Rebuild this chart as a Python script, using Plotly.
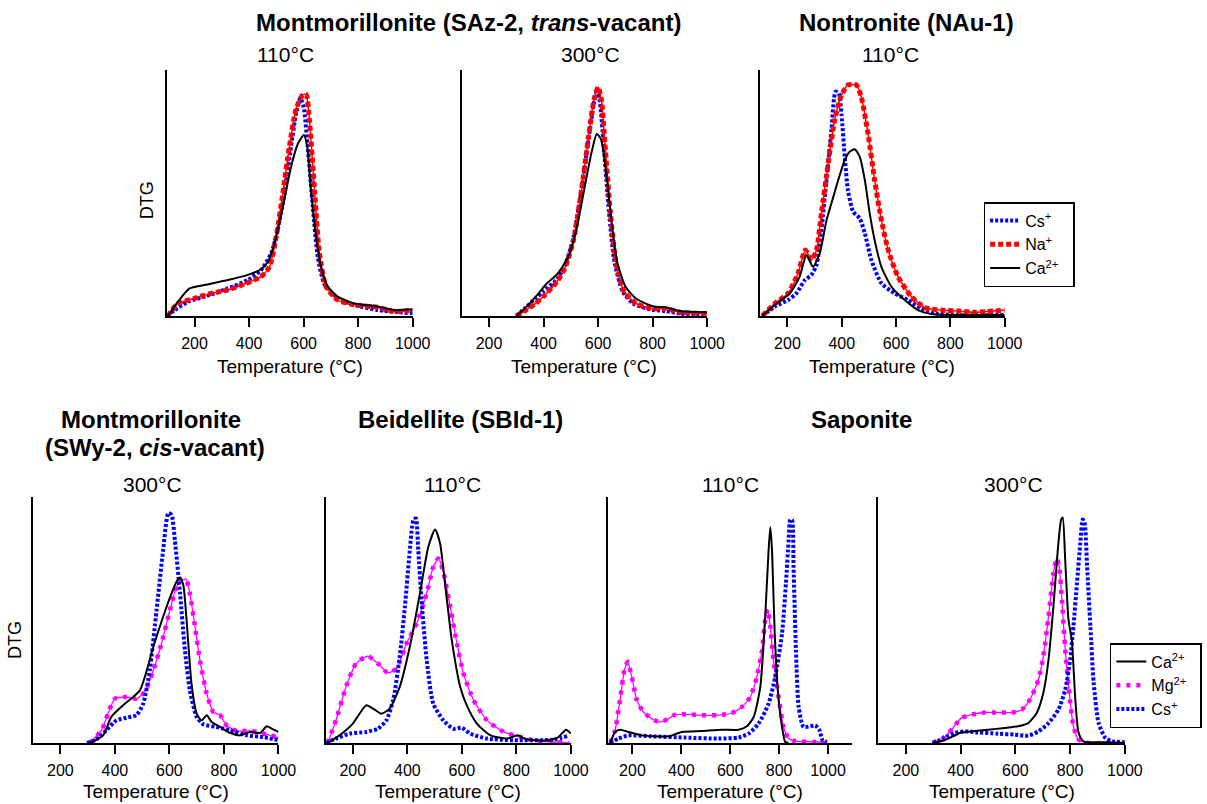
import plotly.graph_objects as go

# ---------------- data: temperature (°C) and normalised DTG ----------------
# Montmorillonite SAz-2, 110 °C
saz110_cs_t = [100, 127, 176, 237, 322, 395, 444, 481, 505, 530, 554, 572, 588, 600, 615, 634, 652, 676, 725, 786, 872, 1000]
saz110_cs_v = [0, 0.024, 0.058, 0.079, 0.112, 0.146, 0.187, 0.255, 0.35, 0.50, 0.69, 0.82, 0.885, 0.85, 0.69, 0.44, 0.24, 0.13, 0.072, 0.045, 0.024, 0.011]
saz110_na_t = [100, 139, 200, 261, 322, 383, 444, 475, 499, 524, 548, 572, 597, 609, 621, 640, 658, 682, 725, 786, 872, 933, 1000]
saz110_na_v = [0, 0.05, 0.072, 0.092, 0.106, 0.13, 0.16, 0.20, 0.32, 0.50, 0.69, 0.84, 0.90, 0.90, 0.80, 0.51, 0.255, 0.12, 0.065, 0.045, 0.035, 0.018, 0.024]
saz110_ca_t = [100, 108, 139, 182, 237, 322, 395, 444, 469, 493, 524, 554, 579, 601, 613, 627, 646, 664, 689, 725, 786, 860, 933, 1000]
saz110_ca_v = [0, 0.01, 0.058, 0.112, 0.126, 0.146, 0.167, 0.19, 0.22, 0.295, 0.444, 0.607, 0.70, 0.736, 0.69, 0.51, 0.32, 0.20, 0.12, 0.079, 0.051, 0.041, 0.024, 0.027]

# Montmorillonite SAz-2, 300 °C
saz300_cs_t = [300, 330, 370, 400, 450, 480, 510, 540, 565, 585, 595, 605, 620, 640, 660, 690, 730, 800, 850, 900, 1000]
saz300_cs_v = [0, 0.03, 0.07, 0.10, 0.15, 0.21, 0.32, 0.52, 0.72, 0.87, 0.91, 0.88, 0.70, 0.42, 0.22, 0.10, 0.05, 0.025, 0.02, 0.01, 0.005]
saz300_na_t = [300, 330, 370, 400, 450, 480, 510, 540, 565, 585, 600, 612, 625, 645, 665, 695, 740, 800, 850, 900, 1000]
saz300_na_v = [0, 0.02, 0.05, 0.08, 0.14, 0.20, 0.31, 0.52, 0.73, 0.88, 0.93, 0.88, 0.70, 0.42, 0.22, 0.10, 0.05, 0.03, 0.03, 0.015, 0.01]
saz300_ca_t = [300, 340, 380, 410, 450, 490, 520, 550, 575, 595, 610, 630, 650, 670, 700, 740, 800, 850, 900, 1000]
saz300_ca_v = [0, 0.04, 0.09, 0.13, 0.17, 0.24, 0.35, 0.52, 0.66, 0.74, 0.72, 0.58, 0.38, 0.22, 0.12, 0.07, 0.04, 0.035, 0.02, 0.015]

# Nontronite NAu-1, 110 °C
nau110_cs_t = [107, 153, 202, 233, 264, 288, 307, 325, 344, 362, 377, 389, 399, 411, 423, 442, 466, 485, 509, 546, 595, 644, 693, 742, 828, 1000]
nau110_cs_v = [0, 0.038, 0.065, 0.092, 0.146, 0.167, 0.207, 0.35, 0.553, 0.756, 0.912, 0.905, 0.82, 0.648, 0.51, 0.424, 0.397, 0.336, 0.228, 0.133, 0.092, 0.065, 0.031, 0.011, 0.004, 0.004]
nau110_na_t = [107, 153, 202, 239, 266, 288, 307, 325, 350, 374, 399, 423, 454, 472, 497, 521, 546, 571, 607, 656, 706, 767, 828, 890, 1000]
nau110_na_v = [0, 0.05, 0.092, 0.173, 0.268, 0.228, 0.268, 0.417, 0.62, 0.797, 0.898, 0.939, 0.939, 0.89, 0.74, 0.553, 0.39, 0.268, 0.16, 0.079, 0.034, 0.024, 0.02, 0.015, 0.024]
nau110_ca_t = [107, 153, 209, 245, 270, 294, 319, 344, 362, 387, 411, 429, 448, 466, 485, 503, 521, 546, 583, 632, 681, 730, 1000]
nau110_ca_v = [0, 0.045, 0.092, 0.16, 0.248, 0.2, 0.255, 0.39, 0.458, 0.553, 0.634, 0.668, 0.678, 0.648, 0.553, 0.417, 0.309, 0.2, 0.119, 0.065, 0.024, 0.008, 0.004]

# Montmorillonite SWy-2, 300 °C
swy300_mg_t = [308, 351, 375, 400, 443, 479, 510, 541, 571, 602, 626, 645, 661, 675, 694, 712, 737, 761, 786, 810, 847, 896, 945, 1000]
swy300_mg_v = [0, 0.052, 0.119, 0.18, 0.187, 0.18, 0.208, 0.296, 0.404, 0.54, 0.635, 0.662, 0.665, 0.608, 0.472, 0.336, 0.2, 0.126, 0.113, 0.072, 0.049, 0.049, 0.038, 0.022]
swy300_cs_t = [298, 332, 369, 406, 443, 479, 504, 528, 553, 577, 596, 608, 620, 639, 657, 675, 700, 724, 773, 822, 884, 945, 1000]
swy300_cs_v = [0, 0.014, 0.052, 0.092, 0.103, 0.113, 0.16, 0.296, 0.54, 0.784, 0.934, 0.927, 0.825, 0.608, 0.377, 0.214, 0.106, 0.076, 0.065, 0.052, 0.031, 0.024, 0.011]
swy300_ca_t = [308, 357, 387, 430, 467, 492, 510, 541, 577, 608, 626, 639, 651, 663, 681, 700, 718, 737, 755, 786, 822, 859, 896, 933, 957, 982, 1000]
swy300_ca_v = [0, 0.031, 0.106, 0.153, 0.187, 0.214, 0.269, 0.39, 0.513, 0.608, 0.655, 0.673, 0.642, 0.5, 0.242, 0.119, 0.092, 0.113, 0.085, 0.065, 0.041, 0.031, 0.045, 0.041, 0.068, 0.054, 0.045]

# Beidellite SBId-1, 110 °C
sbid110_mg_t = [108, 138, 175, 212, 255, 292, 329, 360, 397, 434, 471, 495, 514, 532, 557, 582, 606, 643, 692, 754, 815, 877, 938, 994]
sbid110_mg_v = [0, 0.092, 0.228, 0.323, 0.353, 0.323, 0.285, 0.303, 0.404, 0.486, 0.608, 0.716, 0.75, 0.696, 0.554, 0.404, 0.282, 0.174, 0.092, 0.045, 0.024, 0.008, 0.004, 0]
sbid110_cs_t = [102, 138, 188, 249, 292, 323, 348, 372, 391, 407, 422, 431, 440, 452, 471, 495, 532, 569, 600, 631, 692, 791, 938, 994]
sbid110_cs_v = [0, 0.018, 0.038, 0.045, 0.058, 0.092, 0.174, 0.35, 0.554, 0.757, 0.906, 0.913, 0.784, 0.58, 0.336, 0.16, 0.092, 0.058, 0.062, 0.038, 0.018, 0.011, 0.014, 0.031]
sbid110_ca_t = [108, 151, 200, 249, 274, 305, 335, 372, 409, 446, 477, 502, 520, 538, 563, 594, 618, 655, 705, 766, 803, 840, 914, 951, 982, 1000]
sbid110_ca_v = [0, 0.031, 0.079, 0.153, 0.14, 0.119, 0.14, 0.228, 0.391, 0.608, 0.798, 0.868, 0.811, 0.649, 0.418, 0.228, 0.153, 0.079, 0.031, 0.018, 0.031, 0.014, 0.011, 0.022, 0.054, 0.038]

# Saponite, 110 °C
sap110_mg_t = [109, 129, 149, 167, 181, 197, 218, 245, 279, 313, 347, 375, 429, 484, 552, 607, 648, 682, 709, 730, 743, 753, 764, 777, 798, 818, 839, 866, 962, 996]
sap110_mg_v = [0, 0.052, 0.174, 0.296, 0.33, 0.269, 0.174, 0.126, 0.099, 0.085, 0.099, 0.115, 0.116, 0.113, 0.113, 0.122, 0.147, 0.187, 0.269, 0.377, 0.5, 0.543, 0.472, 0.336, 0.187, 0.065, 0.018, 0.008, 0.004, 0]
sap110_cs_t = [109, 143, 184, 279, 416, 552, 634, 675, 716, 757, 784, 812, 828, 839, 846, 853, 859, 869, 880, 900, 928, 948, 965, 978, 996]
sap110_cs_v = [0, 0.018, 0.031, 0.027, 0.022, 0.018, 0.022, 0.038, 0.079, 0.16, 0.269, 0.445, 0.649, 0.825, 0.909, 0.906, 0.716, 0.377, 0.147, 0.065, 0.068, 0.072, 0.052, 0.011, 0.004]
sap110_ca_t = [109, 129, 149, 184, 238, 347, 402, 484, 566, 634, 668, 696, 723, 743, 757, 764, 771, 782, 798, 812, 825, 839]
sap110_ca_v = [0, 0.045, 0.054, 0.045, 0.031, 0.027, 0.045, 0.049, 0.054, 0.054, 0.068, 0.106, 0.228, 0.513, 0.784, 0.877, 0.784, 0.445, 0.174, 0.065, 0.004, 0]

# Saponite, 300 °C
sap300_mg_t = [298, 341, 372, 402, 439, 488, 537, 586, 623, 653, 684, 702, 721, 739, 751, 760, 770, 782, 797, 812, 831, 868, 978]
sap300_mg_v = [0, 0.024, 0.061, 0.101, 0.115, 0.124, 0.124, 0.124, 0.135, 0.176, 0.257, 0.352, 0.514, 0.69, 0.751, 0.717, 0.582, 0.379, 0.203, 0.068, 0.014, 0, 0]
sap300_cs_t = [298, 341, 378, 414, 463, 537, 598, 647, 684, 721, 757, 782, 800, 812, 825, 837, 846, 853, 862, 874, 886, 904, 929, 953, 1000]
sap300_cs_v = [0, 0.02, 0.041, 0.047, 0.043, 0.038, 0.034, 0.03, 0.047, 0.081, 0.135, 0.217, 0.338, 0.474, 0.65, 0.812, 0.909, 0.893, 0.717, 0.474, 0.244, 0.081, 0.02, 0.007, 0.003]
sap300_ca_t = [298, 341, 372, 402, 439, 500, 561, 610, 647, 678, 702, 721, 739, 755, 767, 773, 782, 794, 806, 819, 831, 849, 929, 1000]
sap300_ca_v = [0, 0.011, 0.027, 0.043, 0.047, 0.054, 0.061, 0.068, 0.081, 0.122, 0.203, 0.338, 0.555, 0.785, 0.907, 0.917, 0.744, 0.5, 0.419, 0.176, 0.041, 0.007, 0.003, 0]

tick_values = [200, 400, 600, 800, 1000]
ion_labels = {"Cs": "Cs<sup>+</sup>", "Na": "Na<sup>+</sup>", "Ca": "Ca<sup>2+</sup>", "Mg": "Mg<sup>2+</sup>"}

# ---------------- page geometry ----------------
W, H = 1207, 804
PAPER_W = 1187          # drawn width of the paper area in the browser window
FONT = "Arial, Liberation Sans, sans-serif"


def fx(px):
    return px / PAPER_W


def fy(py):
    return 1 - py / H


TOP_ROW = (70, 316)
BOTTOM_ROW = (497, 743)

# (axis number, left px, right px, row, x max, series list)
panels = [
    (1, 167, 412, TOP_ROW, 1000, [("Cs", saz110_cs_t, saz110_cs_v), ("Na", saz110_na_t, saz110_na_v), ("Ca", saz110_ca_t, saz110_ca_v)]),
    (2, 461, 706, TOP_ROW, 1000, [("Cs", saz300_cs_t, saz300_cs_v), ("Na", saz300_na_t, saz300_na_v), ("Ca", saz300_ca_t, saz300_ca_v)]),
    (3, 759, 1003, TOP_ROW, 1000, [("Cs", nau110_cs_t, nau110_cs_v), ("Na", nau110_na_t, nau110_na_v), ("Ca", nau110_ca_t, nau110_ca_v)]),
    (4, 33, 278, BOTTOM_ROW, 1000, [("Mg", swy300_mg_t, swy300_mg_v), ("Cs", swy300_cs_t, swy300_cs_v), ("Ca", swy300_ca_t, swy300_ca_v)]),
    (5, 325, 570, BOTTOM_ROW, 1000, [("Mg", sbid110_mg_t, sbid110_mg_v), ("Cs", sbid110_cs_t, sbid110_cs_v), ("Ca", sbid110_ca_t, sbid110_ca_v)]),
    (6, 607, 851, BOTTOM_ROW, 1100, [("Mg", sap110_mg_t, sap110_mg_v), ("Cs", sap110_cs_t, sap110_cs_v), ("Ca", sap110_ca_t, sap110_ca_v)]),
    (7, 877, 1123, BOTTOM_ROW, 1000, [("Mg", sap300_mg_t, sap300_mg_v), ("Cs", sap300_cs_t, sap300_cs_v), ("Ca", sap300_ca_t, sap300_ca_v)]),
]

top_rank = {"Cs": 1, "Na": 2, "Ca": 3}
bottom_rank = {"Ca": 1, "Mg": 2, "Cs": 3}

fig = go.Figure()


def add_series(n, ion, t, v, show_legend, legend_name, rank):
    xa = "x" if n == 1 else f"x{n}"
    ya = "y" if n == 1 else f"y{n}"
    name = ion_labels[ion] + "\u00a0\u00a0"
    common = dict(x=t, y=v, xaxis=xa, yaxis=ya, mode="lines", legend=legend_name,
                  line_shape="spline", hoverinfo="skip")
    if ion == "Cs":
        fig.add_trace(go.Scatter(**common, name=name, showlegend=show_legend, legendrank=rank,
                                 line=dict(color="#0000FF", width=4, dash="3px,2px", smoothing=0.6)))
    elif ion == "Ca":
        fig.add_trace(go.Scatter(**common, name=name, showlegend=show_legend, legendrank=rank,
                                 line=dict(color="black", width=2, smoothing=0.6)))
    elif ion == "Na":
        fig.add_trace(go.Scatter(**common, name=name, showlegend=False,
                                 line=dict(color="#FF0000", width=1.5, smoothing=0.6)))
        fig.add_trace(go.Scatter(**common, name=name, showlegend=show_legend, legendrank=rank,
                                 line=dict(color="#FF0000", width=5, dash="5px,3px", smoothing=0.6)))
    elif ion == "Mg":
        fig.add_trace(go.Scatter(**common, name=name, showlegend=False,
                                 line=dict(color="#FF00FF", width=1.3, smoothing=0.6)))
        fig.add_trace(go.Scatter(**common, name=name, showlegend=show_legend, legendrank=rank,
                                 line=dict(color="#FF00FF", width=4.5, dash="4px,6px", smoothing=0.6)))


layout_axes = {}
for n, left, right, row, xmax, series in panels:
    top, bottom = row
    on_top = row == TOP_ROW
    for ion, t, v in series:
        if on_top:
            add_series(n, ion, t, v, n == 1, "legend", top_rank[ion])
        else:
            add_series(n, ion, t, v, n == 7, "legend2", bottom_rank[ion])
    sx = "" if n == 1 else str(n)
    layout_axes[f"xaxis{sx}"] = dict(
        domain=[fx(left), fx(right)], range=[100, xmax], anchor=f"y{sx}",
        showline=True, linecolor="black", linewidth=2, mirror=False,
        ticks="outside", ticklen=9, tickwidth=2, tickcolor="black",
        tickvals=tick_values, showgrid=False, zeroline=False,
        tickfont=dict(family=FONT, size=16, color="black"), ticklabelstandoff=3,
    )
    layout_axes[f"yaxis{sx}"] = dict(
        domain=[fy(bottom), fy(top)], range=[0, 1], anchor=f"x{sx}",
        showline=True, linecolor="black", linewidth=2,
        showticklabels=False, ticks="", showgrid=False, zeroline=False,
    )

# ---------------- text ----------------
annotations = []


def label(text, x, y, size, angle=0):
    annotations.append(dict(text=text, x=fx(x), y=fy(y), xref="paper", yref="paper",
                            xanchor="center", yanchor="middle", showarrow=False, textangle=angle,
                            font=dict(family=FONT, size=size, color="black")))


TITLE = 24
SUB = 21
AXT = 19

label("<b>Montmorillonite (SAz-2, <i>trans</i>-vacant)</b>", 468, 23, TITLE)
label("110°C", 285, 55, SUB)
label("300°C", 590, 55, SUB)
label("<b>Nontronite (NAu-1)</b>", 905, 23, TITLE)
label("110°C", 889, 55, SUB)
label("DTG", 147, 200, 18, -90)

label("<b>Montmorillonite</b>", 151, 420, TITLE)
label("<b>(SWy-2, <i>cis</i>-vacant)</b>", 155, 447, TITLE)
label("300°C", 152, 485, SUB)
label("<b>Beidellite (SBId-1)</b>", 460, 420, TITLE)
label("110°C", 452, 485, SUB)
label("<b>Saponite</b>", 860, 420, TITLE)
label("110°C", 729, 485, SUB)
label("300°C", 1012, 485, SUB)
label("DTG", 15, 640, 18, -90)

for n, left, right, row, xmax, series in panels:
    ty = 366 if row == TOP_ROW else 791
    label("Temperature (°C)", (left + right) / 2, ty, AXT)

legend_style = dict(xanchor="left", yanchor="top", bgcolor="white", bordercolor="black",
                    borderwidth=1.5, font=dict(family=FONT, size=16, color="black"),
                    traceorder="normal", itemwidth=30)

fig.update_layout(
    width=W, height=H, autosize=False, margin=dict(l=0, r=0, t=0, b=0),
    paper_bgcolor="white", plot_bgcolor="white",
    font=dict(family=FONT, color="black"),
    showlegend=True,
    legend=dict(x=fx(982), y=fy(202), **legend_style),
    legend2=dict(x=fx(1108), y=fy(643), **legend_style),
    annotations=annotations,
    **layout_axes,
)

fig.write_html("out.html", config={"responsive": False})
